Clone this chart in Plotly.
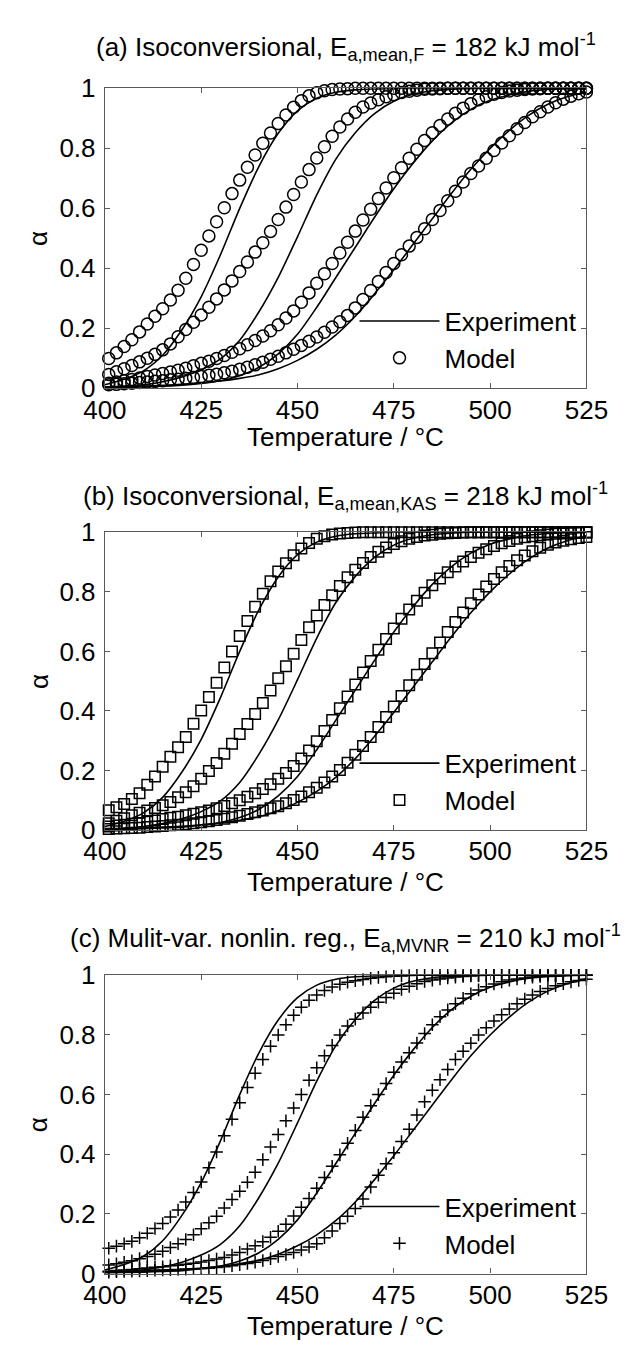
import plotly.graph_objects as go

# ---------------- data ----------------
T_EXP = [400, 405, 410, 415, 420, 425, 430, 435, 440, 445, 450, 455, 460,
         465, 470, 475, 480, 485, 490, 495, 500, 505, 510, 515, 520, 525]

EXP_1 = [0.012, 0.03, 0.058, 0.11, 0.195, 0.305, 0.445, 0.6, 0.74, 0.85, 0.925, 0.967, 0.987,
         0.995, 0.998, 1.0, 1.0, 1.0, 1.0, 1.0, 1.0, 1.0, 1.0, 1.0, 1.0, 1.0]
EXP_2 = [0.004, 0.007, 0.012, 0.022, 0.038, 0.062, 0.098, 0.16, 0.255, 0.37, 0.505, 0.645, 0.765,
         0.852, 0.916, 0.957, 0.98, 0.992, 0.997, 1.0, 1.0, 1.0, 1.0, 1.0, 1.0, 1.0]
EXP_3 = [0.002, 0.003, 0.005, 0.007, 0.01, 0.016, 0.025, 0.042, 0.07, 0.115, 0.18, 0.27, 0.37,
         0.47, 0.57, 0.665, 0.75, 0.825, 0.885, 0.93, 0.96, 0.978, 0.99, 0.996, 0.999, 1.0]
EXP_4 = [0.003, 0.005, 0.007, 0.01, 0.013, 0.018, 0.024, 0.033, 0.045, 0.065, 0.093, 0.13, 0.178,
         0.24, 0.315, 0.395, 0.48, 0.565, 0.65, 0.73, 0.8, 0.86, 0.91, 0.947, 0.972, 0.988]

T_MODEL = [401, 403, 405, 407, 409, 411, 413, 415, 417, 419, 421, 423, 425, 427, 429, 431,
           433, 435, 437, 439, 441, 443, 445, 447, 449, 451, 453, 455, 457, 459, 461, 463,
           465, 467, 469, 471, 473, 475, 477, 479, 481, 483, 485, 487, 489, 491, 493, 495,
           497, 499, 501, 503, 505, 507, 509, 511, 513, 515, 517, 519, 521, 523, 525]

# (a) isoconversional, Friedman
MODEL_A1 = [0.099, 0.118, 0.139, 0.162, 0.188, 0.214, 0.240, 0.265, 0.294, 0.327, 0.367, 0.413,
            0.460, 0.508, 0.555, 0.602, 0.649, 0.694, 0.737, 0.778, 0.817, 0.851, 0.883, 0.911,
            0.937, 0.959, 0.975, 0.985, 0.992, 0.996, 0.998, 0.999,
            1.0, 1.0, 1.0, 1.0, 1.0, 1.0, 1.0, 1.0, 1.0, 1.0, 1.0, 1.0, 1.0, 1.0, 1.0, 1.0,
            1.0, 1.0, 1.0, 1.0, 1.0, 1.0, 1.0, 1.0, 1.0, 1.0, 1.0, 1.0, 1.0, 1.0, 1.0]
MODEL_A2 = [0.046, 0.055, 0.065, 0.076, 0.088, 0.100, 0.113, 0.128, 0.148, 0.172, 0.196, 0.220,
            0.244, 0.270, 0.298, 0.328, 0.358, 0.389, 0.421, 0.454, 0.485, 0.523, 0.563, 0.604,
            0.646, 0.688, 0.729, 0.768, 0.805, 0.840, 0.871, 0.898, 0.920, 0.938, 0.951, 0.962,
            0.972, 0.979, 0.986, 0.990, 0.994, 0.997, 0.998, 0.999,
            1.0, 1.0, 1.0, 1.0, 1.0, 1.0, 1.0, 1.0, 1.0, 1.0, 1.0, 1.0, 1.0, 1.0, 1.0, 1.0,
            1.0, 1.0, 1.0]
MODEL_A3 = [0.017, 0.021, 0.025, 0.029, 0.034, 0.039, 0.044, 0.049, 0.054, 0.060, 0.067, 0.075,
            0.083, 0.090, 0.099, 0.109, 0.120, 0.132, 0.145, 0.159, 0.174, 0.192, 0.212, 0.234,
            0.258, 0.287, 0.318, 0.350, 0.382, 0.416, 0.451, 0.487, 0.524, 0.561, 0.597, 0.633,
            0.668, 0.702, 0.735, 0.767, 0.797, 0.826, 0.852, 0.876, 0.898, 0.917, 0.934, 0.949,
            0.962, 0.972, 0.980, 0.986, 0.991, 0.994, 0.996, 0.998, 0.999,
            1.0, 1.0, 1.0, 1.0, 1.0, 1.0]
MODEL_A4 = [0.012, 0.013, 0.015, 0.017, 0.019, 0.021, 0.023, 0.025, 0.028, 0.030, 0.033, 0.036,
            0.039, 0.043, 0.047, 0.052, 0.057, 0.063, 0.070, 0.078, 0.087, 0.097, 0.107, 0.118,
            0.130, 0.143, 0.157, 0.171, 0.187, 0.204, 0.222, 0.243, 0.268, 0.296, 0.326, 0.356,
            0.386, 0.416, 0.445, 0.474, 0.503, 0.532, 0.563, 0.593, 0.625, 0.657, 0.688, 0.716,
            0.741, 0.767, 0.793, 0.818, 0.842, 0.865, 0.886, 0.905, 0.922, 0.938, 0.952, 0.964,
            0.974, 0.982, 0.988]

# (b) isoconversional, KAS
MODEL_B1 = [0.067, 0.077, 0.088, 0.104, 0.124, 0.152, 0.180, 0.213, 0.246, 0.278, 0.313, 0.357,
            0.402, 0.447, 0.495, 0.546, 0.600, 0.652, 0.702, 0.750, 0.794, 0.836, 0.868, 0.896,
            0.923, 0.946, 0.964, 0.978, 0.987, 0.993, 0.996, 0.998, 0.999,
            1.0, 1.0, 1.0, 1.0, 1.0, 1.0, 1.0, 1.0, 1.0, 1.0, 1.0, 1.0, 1.0, 1.0, 1.0, 1.0,
            1.0, 1.0, 1.0, 1.0, 1.0, 1.0, 1.0, 1.0, 1.0, 1.0, 1.0, 1.0, 1.0, 1.0]
MODEL_B2 = [0.023, 0.031, 0.040, 0.050, 0.058, 0.066, 0.074, 0.083, 0.094, 0.110, 0.127, 0.147,
            0.172, 0.198, 0.225, 0.256, 0.290, 0.323, 0.356, 0.390, 0.427, 0.469, 0.510, 0.550,
            0.592, 0.638, 0.681, 0.721, 0.756, 0.789, 0.820, 0.849, 0.874, 0.897, 0.917, 0.935,
            0.949, 0.961, 0.970, 0.978, 0.984, 0.989, 0.992, 0.995, 0.997, 0.998, 0.999,
            1.0, 1.0, 1.0, 1.0, 1.0, 1.0, 1.0, 1.0, 1.0, 1.0, 1.0, 1.0, 1.0, 1.0, 1.0, 1.0]
MODEL_B3 = [0.012, 0.015, 0.018, 0.021, 0.024, 0.028, 0.032, 0.037, 0.041, 0.045, 0.050, 0.055,
            0.060, 0.066, 0.073, 0.081, 0.090, 0.100, 0.112, 0.124, 0.138, 0.154, 0.172, 0.192,
            0.215, 0.240, 0.267, 0.298, 0.333, 0.370, 0.409, 0.449, 0.489, 0.529, 0.568, 0.606,
            0.642, 0.677, 0.710, 0.741, 0.770, 0.797, 0.822, 0.845, 0.866, 0.885, 0.902, 0.917,
            0.931, 0.943, 0.954, 0.963, 0.971, 0.978, 0.983, 0.987, 0.990, 0.993, 0.995, 0.996,
            0.997, 0.998, 0.999]
MODEL_B4 = [0.004, 0.005, 0.006, 0.007, 0.008, 0.010, 0.012, 0.014, 0.016, 0.018, 0.020, 0.023,
            0.026, 0.030, 0.034, 0.038, 0.043, 0.048, 0.054, 0.060, 0.066, 0.073, 0.080, 0.090,
            0.101, 0.113, 0.127, 0.142, 0.160, 0.180, 0.202, 0.226, 0.253, 0.282, 0.313, 0.346,
            0.380, 0.415, 0.450, 0.486, 0.522, 0.558, 0.594, 0.630, 0.665, 0.699, 0.731, 0.762,
            0.791, 0.818, 0.843, 0.866, 0.887, 0.906, 0.922, 0.936, 0.948, 0.958, 0.966, 0.972,
            0.977, 0.981, 0.984]

# (c) multivariate nonlinear regression
MODEL_C1 = [0.085, 0.092, 0.100, 0.108, 0.120, 0.135, 0.151, 0.168, 0.190, 0.213, 0.240, 0.272,
            0.307, 0.355, 0.408, 0.462, 0.517, 0.573, 0.624, 0.672, 0.718, 0.762, 0.800, 0.834,
            0.866, 0.893, 0.916, 0.934, 0.949, 0.961, 0.970, 0.977, 0.982, 0.986, 0.990, 0.993,
            0.995, 0.997, 0.998, 0.999,
            1.0, 1.0, 1.0, 1.0, 1.0, 1.0, 1.0, 1.0, 1.0, 1.0, 1.0, 1.0, 1.0, 1.0, 1.0, 1.0,
            1.0, 1.0, 1.0, 1.0, 1.0, 1.0, 1.0]
MODEL_C2 = [0.029, 0.033, 0.038, 0.043, 0.050, 0.057, 0.065, 0.075, 0.087, 0.100, 0.114, 0.130,
            0.150, 0.170, 0.192, 0.220, 0.248, 0.276, 0.306, 0.340, 0.382, 0.424, 0.466, 0.512,
            0.555, 0.600, 0.648, 0.690, 0.730, 0.765, 0.800, 0.830, 0.853, 0.874, 0.893, 0.910,
            0.926, 0.940, 0.953, 0.963, 0.972, 0.979, 0.984, 0.988, 0.991, 0.994, 0.996, 0.998,
            0.999, 1.0, 1.0, 1.0, 1.0, 1.0, 1.0, 1.0, 1.0, 1.0, 1.0, 1.0, 1.0, 1.0, 1.0]
MODEL_C3 = [0.008, 0.010, 0.012, 0.014, 0.016, 0.019, 0.021, 0.023, 0.026, 0.028, 0.031, 0.035,
            0.039, 0.044, 0.049, 0.054, 0.062, 0.071, 0.082, 0.093, 0.107, 0.122, 0.142, 0.165,
            0.193, 0.222, 0.252, 0.286, 0.322, 0.360, 0.398, 0.437, 0.480, 0.524, 0.563, 0.600,
            0.637, 0.675, 0.709, 0.740, 0.773, 0.805, 0.834, 0.861, 0.884, 0.905, 0.923, 0.938,
            0.951, 0.962, 0.971, 0.978, 0.984, 0.988, 0.991, 0.994, 0.996, 0.997, 0.998, 0.999,
            1.0, 1.0, 1.0]
MODEL_C4 = [0.005, 0.006, 0.007, 0.008, 0.009, 0.010, 0.011, 0.012, 0.013, 0.014, 0.015, 0.016,
            0.017, 0.018, 0.020, 0.023, 0.026, 0.030, 0.034, 0.038, 0.044, 0.050, 0.057, 0.064,
            0.071, 0.079, 0.089, 0.100, 0.120, 0.143, 0.168, 0.192, 0.218, 0.250, 0.290, 0.330,
            0.368, 0.405, 0.443, 0.484, 0.532, 0.576, 0.615, 0.650, 0.684, 0.718, 0.745, 0.772,
            0.800, 0.824, 0.847, 0.868, 0.887, 0.905, 0.920, 0.934, 0.946, 0.956, 0.965, 0.972,
            0.978, 0.983, 0.987]

X_TICKS = [400, 425, 450, 475, 500, 525]
Y_TICKS = [0, 0.2, 0.4, 0.6, 0.8, 1]
Y_TICK_TEXT = ["0", "0.2", "0.4", "0.6", "0.8", "1"]

TITLES = [
    "(a) Isoconversional, E<sub>a,mean,F</sub> = 182 kJ mol<sup>-1</sup>",
    "(b) Isoconversional, E<sub>a,mean,KAS</sub> = 218 kJ mol<sup>-1</sup>",
    "(c) Mulit-var. nonlin. reg., E<sub>a,MVNR</sub> = 210 kJ mol<sup>-1</sup>",
]
X_LABEL = "Temperature / °C"
Y_LABEL = "α"
LEGEND_NAMES = ["Experiment", "Model"]

EXPERIMENTS = [EXP_1, EXP_2, EXP_3, EXP_4]
MODELS = [
    [MODEL_A1, MODEL_A2, MODEL_A3, MODEL_A4],
    [MODEL_B1, MODEL_B2, MODEL_B3, MODEL_B4],
    [MODEL_C1, MODEL_C2, MODEL_C3, MODEL_C4],
]

# ---------------- layout geometry (pixels) ----------------
W, H = 641, 1358
FONT = "Liberation Sans, Arial, Helvetica, sans-serif"
FS = 26
AX_COLOR = "#5a5a5a"
PLOT_L, PLOT_R = 89, 606
PANELS_PX = [(75, 381.7), (529, 833.5), (982, 1287)]  # (top, bottom)
TITLE_Y = [33, 492, 944]
XLAB_Y = [432, 887, 1341]
LEG_Y = [332, 784, 1237.5]
MARKERS = [
    dict(symbol="circle-open", size=12),
    dict(symbol="square-open", size=10.5),
    dict(symbol="cross-thin-open", size=9),
]


def py(pix):
    return 1 - pix / H


fig = go.Figure()
annotations = []
for i in range(3):
    sfx = "" if i == 0 else str(i + 1)
    xa, ya = "x" + sfx, "y" + sfx
    leg = "legend" + sfx
    for k, e in enumerate(EXPERIMENTS):
        fig.add_trace(go.Scatter(
            x=T_EXP, y=e, mode="lines", name=LEGEND_NAMES[0],
            line=dict(color="black", width=1.6, shape="spline", smoothing=0.8),
            showlegend=(k == 0), legend=leg, xaxis=xa, yaxis=ya, hoverinfo="skip"))
    for k, m in enumerate(MODELS[i]):
        fig.add_trace(go.Scatter(
            x=T_MODEL, y=m, mode="markers", name=LEGEND_NAMES[1],
            marker=dict(symbol=MARKERS[i]["symbol"], size=MARKERS[i]["size"], color="black",
                        line=dict(color="black", width=1.5)),
            cliponaxis=False,
            showlegend=(k == 0), legend=leg, xaxis=xa, yaxis=ya, hoverinfo="skip"))

    top, bot = PANELS_PX[i]
    common = dict(showline=True, linecolor=AX_COLOR, linewidth=1.3, mirror="ticks",
                  ticks="inside", ticklen=5, tickwidth=1.2, tickcolor=AX_COLOR,
                  showgrid=False, zeroline=False,
                  tickfont=dict(family=FONT, size=FS, color="black"))
    fig.update_layout(**{
        "xaxis" + sfx: dict(domain=[PLOT_L / W, PLOT_R / W], range=[400, 525],
                            tickvals=X_TICKS, anchor=ya, ticklabelstandoff=-2, **common),
        "yaxis" + sfx: dict(domain=[py(bot), py(top)], range=[0, 1],
                            tickvals=Y_TICKS, ticktext=Y_TICK_TEXT, anchor=xa,
                            ticklabelstandoff=3, **common),
        leg: dict(x=357 / W, y=py(LEG_Y[i]), xanchor="left", yanchor="middle",
                  bgcolor="rgba(0,0,0,0)", itemwidth=80, tracegroupgap=0,
                  font=dict(family=FONT, size=FS, color="black")),
    })
    cx = (PLOT_L + PLOT_R) / 2 / W
    annotations.append(dict(text=TITLES[i], x=cx, y=py(TITLE_Y[i]), xref="paper", yref="paper",
                            xanchor="center", yanchor="middle", showarrow=False,
                            font=dict(family=FONT, size=FS, color="black")))
    annotations.append(dict(text=X_LABEL, x=cx, y=py(XLAB_Y[i]), xref="paper", yref="paper",
                            xanchor="center", yanchor="middle", showarrow=False,
                            font=dict(family=FONT, size=FS, color="black")))
    annotations.append(dict(text=Y_LABEL, x=18 / W, y=py((top + bot) / 2), xref="paper",
                            yref="paper", xanchor="center", yanchor="middle", showarrow=False,
                            textangle=-90, font=dict(family=FONT, size=FS, color="black")))

fig.update_layout(width=W, height=H, margin=dict(l=0, r=0, t=0, b=0),
                  paper_bgcolor="white", plot_bgcolor="white",
                  annotations=annotations, showlegend=True)

fig.write_html("out.html", config={"displayModeBar": False},
               post_script="document.body.style.margin='0';document.body.style.overflow='hidden';")
